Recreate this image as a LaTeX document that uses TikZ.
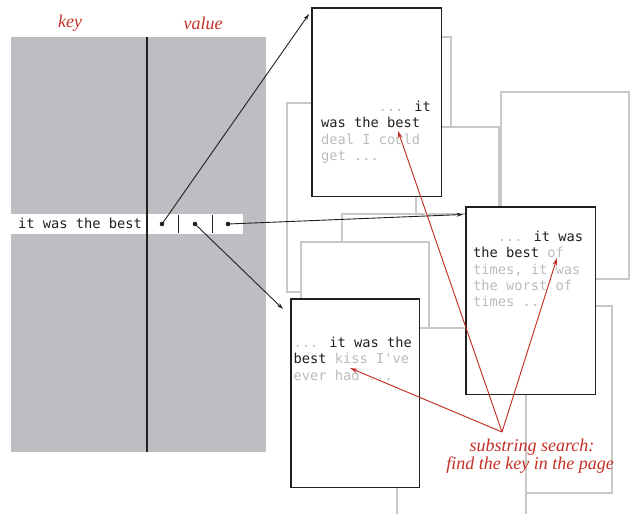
\documentclass[tikz,border=0pt]{standalone}
\usepackage{fontspec}
\newfontfamily\codefont{DejaVu Sans Mono}
\newfontfamily\lblfont{Liberation Serif}
\usetikzlibrary{arrows.meta}
\definecolor{tabgrey}{RGB}{188,190,193}
\definecolor{pgline}{RGB}{200,200,200}
\definecolor{txtgrey}{RGB}{188,188,188}
\definecolor{ink}{RGB}{35,31,32}
\definecolor{bookred}{RGB}{196,48,38}
\begin{document}
\begin{tikzpicture}[x=1pt,y=-1pt,
  ghost/.style={draw=pgline, fill=white, line width=1.3pt},
  pagebox/.style={draw=ink, line width=1.4pt},
  code/.style={font=\codefont\fontsize{13.7}{16}\selectfont, text=ink, anchor=base west, inner sep=0pt},
  lbl/.style={font=\lblfont\itshape\fontsize{18}{19}\selectfont, text=bookred, inner sep=0pt},
  ptr/.style={-{Stealth[length=6.5pt,width=4pt]}, draw=ink, line width=0.9pt},
  hit/.style={-{Stealth[length=7.5pt,width=4.4pt]}, draw=bookred, line width=0.95pt},
  halo/.style={draw=white, line width=3pt},
  dotmark/.style={circle, fill=ink, inner sep=0pt, minimum size=4.6pt}
]
\useasboundingbox (0,0) rectangle (632,514);

% ---- background ghost pages ----
\begin{scope}
\clip (0,0) rectangle (632,514);
\draw[ghost] (330,37) rectangle (451,180);
\draw[ghost] (501,92) rectangle (629,279);
\draw[ghost] (287,103) rectangle (430,292);
\draw[ghost] (416,127) rectangle (499,330);
\draw[ghost] (342,214) rectangle (470,360);
\draw[ghost] (301,242) rectangle (429,440);
\draw[ghost] (520,306) rectangle (612,493);
\draw[ghost] (397,328) rectangle (526,540);
\end{scope}

% ---- symbol table ----
\fill[tabgrey] (11,37) rectangle (266,452);
\fill[white] (11,214) rectangle (243,234);
\draw[ink, line width=1.1pt] (147,37) -- (147,452);
\draw[ink, line width=1pt] (178,215) -- (178,233);
\draw[ink, line width=1pt] (212,215) -- (212,233);
\node[code] (keytxt) at (18,228) {it was the best};
\node[dotmark] (d1) at (162,224) {};
\node[dotmark] (d2) at (195,224) {};
\node[dotmark] (d3) at (228,224) {};
\node[lbl] (key) at (70,23) {key};
\node[lbl] (val) at (203,23) {value};

% ---- pages ----
\node[fill=white, inner sep=0pt, minimum width=129pt, minimum height=188pt] (pA) at (376.5,102) {};
\node[fill=white, inner sep=0pt, minimum width=129pt, minimum height=187pt] (pB) at (530.5,300.5) {};
\node[fill=white, inner sep=0pt, minimum width=128pt, minimum height=188pt] (pC) at (355,393) {};

% page A text
\node[code] (a1) at (378.4,111.5) {{\color{txtgrey}...} it};
\node[code] (a2) at (321,127.8) {was the best};
\node[code, text=txtgrey] (a3) at (321,144.1) {deal I could};
\node[code, text=txtgrey] (a4) at (321,160.4) {get ...};
% page B text
\node[code] (b1) at (497.6,241.5) {{\color{txtgrey}...} it was};
\node[code] (b2) at (473,257.8) {the best {\color{txtgrey}of}};
\node[code, text=txtgrey] (b3) at (473,274.1) {times, it was};
\node[code, text=txtgrey] (b4) at (473,290.4) {the worst of};
\node[code, text=txtgrey] (b5) at (473,306.7) {times ...};
% page C text
\node[code] (c1) at (293.5,347.5) {{\color{txtgrey}...} it was the};
\node[code] (c2) at (293.5,363.8) {best {\color{txtgrey}kiss I've}};
\node[code, text=txtgrey] (c3) at (293.5,380.1) {ever had ...};

% ---- red search arrows (with white halo) ----
\coordinate (src) at (502,432);
\coordinate (hA) at (398,131);
\coordinate (hB) at (557,258);
\coordinate (hC) at (350,368);
\draw[halo] (src) -- (hA);
\draw[halo] (src) -- (hB);
\draw[halo] (src) -- (hC);

% page borders
\draw[pagebox] (pA.north west) rectangle (pA.south east);
\draw[pagebox] (pB.north west) rectangle (pB.south east);
\draw[pagebox] (pC.north west) rectangle (pC.south east);

\draw[hit] (src) -- (hA);
\draw[hit] (src) -- (hB);
\draw[hit] (src) -- (hC);

\node[lbl] (s1) at (532,447) {substring search:};
\node[lbl] (s2) at (530,465) {find the key in the page};

% ---- black pointers ----
\coordinate (tA) at (309,14);
\coordinate (tB) at (463,214.5);
\coordinate (tC) at (283,309);
\draw[ptr] (d1.center) -- (tA);
\draw[ptr] (d3.center) -- (tB);
\draw[ptr] (d2.center) -- (tC);
\end{tikzpicture}
\end{document}
